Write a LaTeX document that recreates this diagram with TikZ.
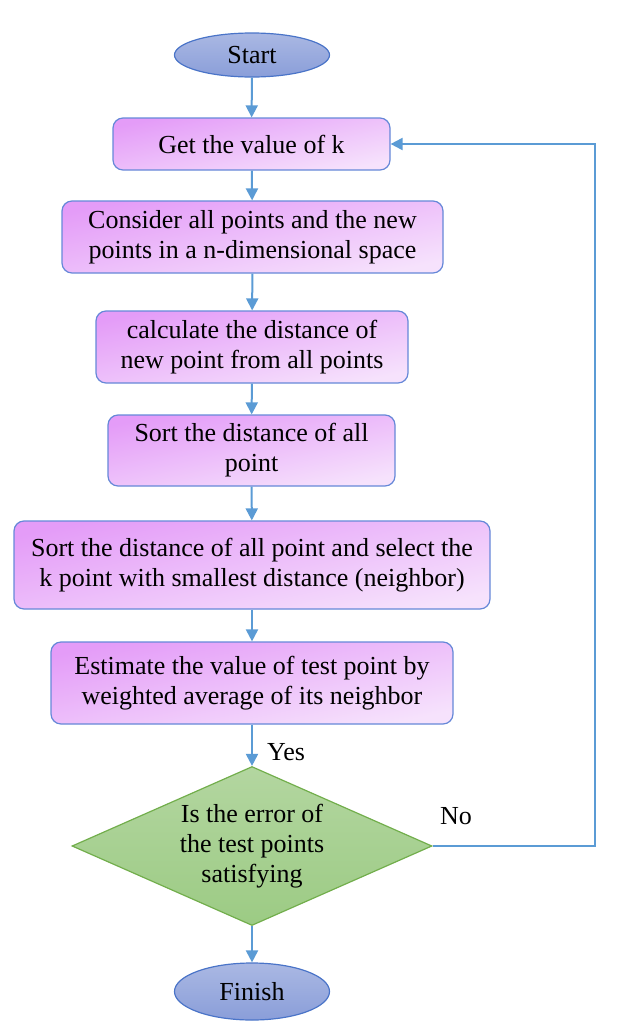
\documentclass[tikz,border=0pt]{standalone}
\usepackage{fontspec}
\setmainfont{Liberation Serif}
\usetikzlibrary{shapes.geometric,arrows.meta}
\definecolor{boxtop}{HTML}{E49CF8}
\definecolor{boxbot}{HTML}{F6E2FC}
\definecolor{boxline}{HTML}{6688D8}
\definecolor{elltop}{HTML}{AAB8E3}
\definecolor{ellbot}{HTML}{8A9ED9}
\definecolor{ellline}{HTML}{4A74C8}
\definecolor{dtop}{HTML}{B3D6A0}
\definecolor{dbot}{HTML}{9CCB84}
\definecolor{dline}{HTML}{72AE4C}
\definecolor{arr}{HTML}{5B9BD5}
\tikzset{
  every node/.style={font=\fontsize{26}{30}\selectfont, text=black},
  procbox/.style={draw=boxline, line width=1.2pt, rounded corners=10pt, shading=axis,
     top color=boxtop, bottom color=boxbot, shading angle=12, align=center, inner sep=0pt},
  term/.style={ellipse, draw=ellline, line width=1.2pt, top color=elltop, bottom color=ellbot,
     minimum width=155pt, minimum height=44pt, inner sep=0pt},
  decision/.style={diamond, draw=dline, line width=1.2pt, top color=dtop, bottom color=dbot,
     minimum width=360pt, minimum height=159pt, inner sep=0pt, aspect=2.26, align=center},
  flow/.style={draw=arr, line width=2pt, -{Triangle[length=12pt,width=12pt]}},
  lab/.style={inner sep=0pt}
}
\begin{document}
\begin{tikzpicture}[x=1pt,y=-1pt]
\useasboundingbox (0,0) rectangle (617,1023);
\node[term] (start) at (252,55) {Start};
\node[procbox, minimum width=277pt, minimum height=52pt] (b1) at (251.5,144) {Get the value of k};
\node[procbox, minimum width=381pt, minimum height=72pt] (b2) at (252.5,237) {Consider all points and the new\\points in a n-dimensional space};
\node[procbox, minimum width=312pt, minimum height=72pt] (b3) at (252,347) {calculate the distance of\\new point from all points};
\node[procbox, minimum width=287pt, minimum height=71pt] (b4) at (251.5,450.5) {Sort the distance of all\\point};
\node[procbox, minimum width=476pt, minimum height=88pt] (b5) at (252,565) {Sort the distance of all point and select the\\k point with smallest distance (neighbor)};
\node[procbox, minimum width=402pt, minimum height=82pt] (b6) at (252,683) {Estimate the value of test point by\\weighted average of its neighbor};
\node[decision] (dec) at (252,846) {Is the error of\\the test points\\satisfying};
\node[term, minimum height=57pt] (fin) at (252,991.5) {Finish};
\coordinate (c1) at (595,846);
\coordinate (c2) at (595,144);
\draw[flow] (start) -- (b1);
\draw[flow] (b1) -- (b2);
\draw[flow] (b2) -- (b3);
\draw[flow] (b3) -- (b4);
\draw[flow] (b4) -- (b5);
\draw[flow] (b5) -- (b6);
\draw[flow] (b6) -- (dec);
\draw[flow] (dec) -- (fin);
\draw[flow] (dec.east) -- (c1) -- (c2) -- (b1.east);
\node[lab] (yes) at (286,752) {Yes};
\node[lab] (no) at (456,816) {No};
\end{tikzpicture}
\end{document}
